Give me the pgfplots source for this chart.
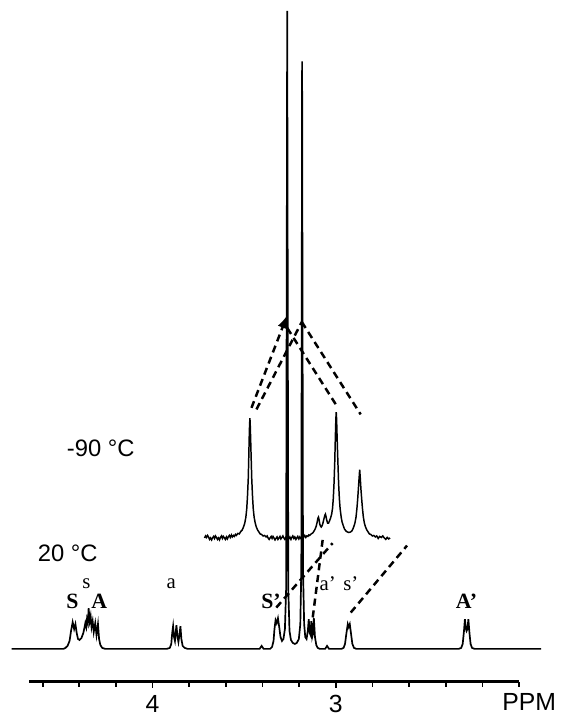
\documentclass[border=0pt]{standalone}
\usepackage{pgfplots}
\pgfplotsset{compat=1.18}
\usepackage{fontspec}
\setmainfont{Liberation Sans}
\newfontfamily\serifont{Liberation Serif}
\begin{document}
\begin{tikzpicture}
\begin{axis}[
  scale only axis, width=247.35pt, height=344pt,
  xmin=2.0, xmax=4.674, x dir=reverse, ymin=0, ymax=688,
  axis x line*=bottom, axis y line=none,
  clip=false,
  xtick={3,4}, minor xtick={2.0,2.2,2.4,2.6,2.8,3.2,3.4,3.6,3.8,4.2,4.4,4.6},
  tick align=outside, major tick length=3.2pt, minor tick length=2.6pt,
  every tick/.style={black, line width=0.9pt},
  axis line style={line width=1.3pt},
  xticklabel style={font=\fontsize{12.5}{14}\selectfont, inner sep=1pt, yshift=-2.5pt},
  /pgf/number format/assume math mode=true,
]
% -90 C spectrum (inset)
\addplot[black, line width=0.75pt, forget plot] coordinates {
(3.717,145) (3.711,147) (3.706,145.5) (3.700,147.5) (3.695,146) (3.689,143.5) (3.684,145) (3.678,143)
(3.673,145) (3.667,146.5) (3.662,144.5) (3.657,147) (3.652,145.5) (3.646,143.5) (3.641,145) (3.635,143)
(3.630,145.5) (3.624,147) (3.619,144.5) (3.614,146.5) (3.608,145) (3.603,143.5) (3.597,146) (3.592,144)
(3.587,146) (3.581,147.5) (3.576,145.5) (3.570,148) (3.565,146) (3.559,147.5) (3.554,146.5) (3.548,148.5)
(3.543,147.5) (3.535,149.5) (3.527,149) (3.519,151.5) (3.511,153) (3.504,156) (3.497,160) (3.491,166)
(3.486,175) (3.482,188) (3.478,205) (3.475,228) (3.473,245) (3.471,258) (3.469,266)
(3.467,258) (3.465,245) (3.462,225) (3.459,205) (3.455,188) (3.451,175) (3.446,166) (3.440,160) (3.434,156)
(3.427,153) (3.420,151) (3.413,149) (3.405,148.5) (3.397,147) (3.389,147.5) (3.381,146) (3.375,147)
(3.370,145) (3.364,143.5) (3.359,145) (3.353,146.5) (3.348,144.5) (3.343,146.5) (3.338,145) (3.332,143)
(3.327,144.5) (3.321,146) (3.316,143.5) (3.310,145) (3.305,146.5) (3.300,144) (3.294,145.5) (3.289,147)
(3.284,145) (3.278,143.5) (3.273,145.5) (3.267,144) (3.262,146) (3.256,144.5) (3.251,146) (3.245,143.5)
(3.240,145.5) (3.235,147) (3.229,144.5) (3.224,146) (3.218,143.5) (3.213,145) (3.208,146.5) (3.202,144)
(3.197,146) (3.191,144.5) (3.186,146) (3.180,144) (3.175,146) (3.170,147.5) (3.164,145.5) (3.159,147)
(3.153,146.5) (3.148,148) (3.143,147.5) (3.135,149) (3.126,150) (3.119,152) (3.113,154) (3.107,157)
(3.102,161) (3.098,165) (3.095,166) (3.091,163) (3.088,159) (3.084,157) (3.080,156) (3.076,157) (3.072,159)
(3.068,162) (3.064,165) (3.060,168) (3.057,169) (3.053,166) (3.050,163) (3.045,160) (3.040,160) (3.035,162)
(3.029,165) (3.023,169) (3.018,175) (3.014,185) (3.010,200) (3.006,222) (3.003,245) (3.000,265) (2.998,272)
(2.996,265) (2.993,245) (2.989,222) (2.985,200) (2.981,185) (2.977,175) (2.971,166) (2.966,161) (2.959,157)
(2.953,154) (2.945,152) (2.937,151) (2.929,150.5) (2.920,151) (2.913,152) (2.907,154) (2.901,157) (2.896,160)
(2.890,166) (2.885,175) (2.881,184) (2.877,195) (2.873,206) (2.870,214) (2.867,206) (2.8635,195) (2.859,184)
(2.855,175) (2.850,166) (2.8445,160) (2.838,156) (2.831,153) (2.824,151) (2.817,149) (2.809,148.5)
(2.801,147) (2.793,147.5) (2.785,146) (2.777,147) (2.769,144.5) (2.761,146.5) (2.752,145.5) (2.744,147)
(2.736,145) (2.728,143.5) (2.720,145.5) (2.712,144) (2.704,145)
};
% 20 C spectrum
\addplot[black, line width=0.85pt, forget plot] coordinates {
(4.769,33) (4.486,33) (4.475,34) (4.464,36) (4.453,41) (4.445,51) (4.436,60) (4.428,53) (4.421,58)
(4.414,49) (4.407,43) (4.399,42) (4.388,44) (4.378,49) (4.371,55) (4.367,59) (4.362,55) (4.358,63)
(4.353,59) (4.349,74) (4.343,61) (4.338,66) (4.333,55) (4.327,61) (4.321,50) (4.313,59) (4.306,47)
(4.298,58) (4.292,43) (4.285,37) (4.275,34) (4.258,33)
(3.923,33) (3.906,34) (3.898,38) (3.893,49) (3.888,56) (3.883,45) (3.878,41) (3.874,49) (3.870,57)
(3.864,45) (3.859,40) (3.853,48) (3.848,56) (3.843,43) (3.836,36) (3.825,34) (3.809,33)
(3.416,33) (3.405,36) (3.394,33)
(3.359,33) (3.348,35) (3.340,41) (3.335,53) (3.329,62) (3.323,59) (3.316,64) (3.309,55) (3.302,45)
(3.294,41) (3.286,43) (3.278,53) (3.2714,93) (3.2655,677) (3.2595,93) (3.253,51) (3.245,42) (3.235,39)
(3.224,38) (3.213,39) (3.202,43) (3.194,58) (3.1885,113) (3.1842,626) (3.1793,113) (3.173,58) (3.167,45)
(3.160,43) (3.153,51) (3.148,63) (3.1425,49) (3.138,47) (3.134,61) (3.129,45) (3.125,48) (3.120,64)
(3.114,45) (3.107,37) (3.099,34) (3.088,33)
(3.0585,33) (3.048,36) (3.037,33)
(2.969,33) (2.958,34) (2.950,38) (2.943,48) (2.935,58) (2.930,55) (2.924,58) (2.917,48) (2.910,38)
(2.901,34) (2.888,33)
(2.330,33) (2.316,34) (2.308,38) (2.301,51) (2.296,63) (2.290,53) (2.287,51) (2.282,53) (2.277,63)
(2.271,49) (2.265,38) (2.257,34) (2.243,33) (1.880,33)
};
% dashed connectors
\pgfplotsset{dashline/.style={black, line width=1.25pt, dash pattern=on 3.6pt off 2.4pt, forget plot}}
\addplot[dashline, -latex] coordinates {(3.4605,276.3) (3.2655,369.7)};
\addplot[dashline] coordinates {(3.4334,274.7) (3.1858,363)};
\addplot[dashline] coordinates {(3.1858,363) (2.8646,269.7)};
\addplot[dashline] coordinates {(3.2655,357) (3.000,279.7)};
\addplot[dashline] coordinates {(3.325,74.7) (3.0179,139.7)};
\addplot[dashline] coordinates {(3.1262,64.7) (3.0721,143)};
\addplot[dashline] coordinates {(2.9187,69.7) (2.6116,137.3)};
% labels
\node[font=\fontsize{12}{14}\selectfont] at (axis cs:4.2828,235.5) {-90 °C};
\node[font=\fontsize{12}{14}\selectfont] at (axis cs:4.4626,129) {20 °C};
\node[font=\serifont\fontsize{10.5}{12}\selectfont] at (axis cs:4.3613,99) {s};
\node[font=\serifont\fontsize{10.5}{12}\selectfont] at (axis cs:3.898,99) {a};
\node[font=\serifont\fontsize{10.5}{12}\selectfont] at (axis cs:3.045,99) {a’};
\node[font=\serifont\fontsize{10.5}{12}\selectfont] at (axis cs:2.918,99) {s’};
\node[font=\serifont\bfseries\fontsize{11}{12}\selectfont] at (axis cs:4.437,81) {S};
\node[font=\serifont\bfseries\fontsize{11}{12}\selectfont] at (axis cs:4.291,81) {A};
\node[font=\serifont\bfseries\fontsize{11}{12}\selectfont] at (axis cs:3.354,81) {S’};
\node[font=\serifont\bfseries\fontsize{11}{12}\selectfont] at (axis cs:2.287,81) {A’};
\node[font=\fontsize{12.5}{14}\selectfont] at (axis cs:1.945,-20.5) {PPM};
\path (axis cs:4.8326,-29) rectangle (axis cs:1.8153,688);
\end{axis}
\end{tikzpicture}
\end{document}
